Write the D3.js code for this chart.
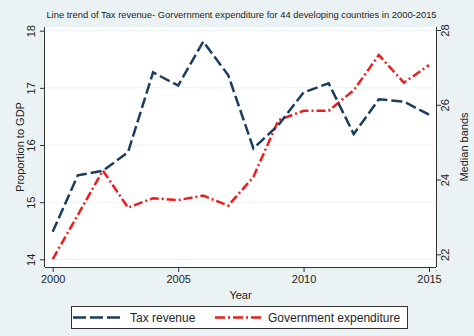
<!DOCTYPE html>
<html>
<head>
<meta charset="utf-8">
<script src="https://cdn.jsdelivr.net/npm/d3@7"></script>
<style>
  html, body { margin: 0; padding: 0; background: #eaf2f3; }
  svg { display: block; }
  text { font-family: "Liberation Sans", Arial, sans-serif; fill: #1e1e1e; }
</style>
</head>
<body>
<svg id="chart" width="474" height="336"></svg>
<script>
// Data
const years = [2000, 2001, 2002, 2003, 2004, 2005, 2006, 2007, 2008, 2009, 2010, 2011, 2012, 2013, 2014, 2015];
const taxRevenue = [14.48, 15.47, 15.55, 15.87, 17.27, 17.04, 17.81, 17.22, 15.94, 16.35, 16.92, 17.08, 16.19, 16.80, 16.76, 16.53];
const govExpenditure = [21.87, 23.05, 24.24, 23.25, 23.50, 23.45, 23.57, 23.30, 24.07, 25.59, 25.84, 25.84, 26.39, 27.33, 26.59, 27.06];
const xTicks = [2000, 2005, 2010, 2015];
const leftTicks = [14, 15, 16, 17, 18];
const rightTicks = [22, 24, 26, 28];
const titleText = "Line trend of Tax revenue- Gorvernment expenditure for 44 developing countries in 2000-2015";
const seriesNames = ["Tax revenue", "Government expenditure"];

const svg = d3.select("#chart");
const plot = { left: 45, right: 436, top: 27, bottom: 267 };

const x = d3.scaleLinear().domain([2000, 2015]).range([52.7, 429]);
const yL = d3.scaleLinear().domain([14, 18]).range([259.3, 30.7]);
const yR = d3.scaleLinear().domain([22, 28]).range([254.3, 30]);

// Plot region
svg.append("rect")
  .attr("x", plot.left).attr("y", plot.top)
  .attr("width", plot.right - plot.left).attr("height", plot.bottom - plot.top)
  .attr("fill", "#ffffff");

// Horizontal grid at left-axis ticks
svg.append("g").selectAll("line").data(leftTicks).join("line")
  .attr("x1", plot.left).attr("x2", plot.right)
  .attr("y1", d => yL(d)).attr("y2", d => yL(d))
  .attr("stroke", "#eaf2f3").attr("stroke-width", 1);

// Title
svg.append("text")
  .attr("x", 241.5).attr("y", 18)
  .attr("text-anchor", "middle")
  .attr("font-size", 9.4)
  .text(titleText);

const axisColor = "#333";
const fmt = d3.format("d");

// Bottom axis
const xAxis = d3.axisBottom(x).tickValues(xTicks).tickFormat(fmt).tickSize(5).tickPadding(3);
const gx = svg.append("g").attr("transform", `translate(0,${plot.bottom})`).call(xAxis);
gx.select(".domain").attr("d", `M${plot.left},0.5H${plot.right}`).attr("stroke", axisColor);
gx.selectAll(".tick line").attr("stroke", axisColor);
gx.selectAll(".tick text").attr("font-size", 11).attr("fill", "#1e1e1e")
  .attr("font-family", "Liberation Sans, Arial, sans-serif");

// Left axis
const yAxisL = d3.axisLeft(yL).tickValues(leftTicks).tickFormat(fmt).tickSize(5).tickPadding(0);
const gl = svg.append("g").attr("transform", `translate(${plot.left},0)`).call(yAxisL);
gl.select(".domain").attr("d", `M-0.5,${plot.top}V${plot.bottom}`).attr("stroke", axisColor);
gl.selectAll(".tick line").attr("stroke", axisColor);
gl.selectAll(".tick text")
  .attr("font-size", 11).attr("fill", "#1e1e1e")
  .attr("font-family", "Liberation Sans, Arial, sans-serif")
  .attr("text-anchor", "middle").attr("dy", null)
  .attr("x", 0).attr("y", 0)
  .attr("transform", "translate(-10,0) rotate(-90)");

// Right axis
const yAxisR = d3.axisRight(yR).tickValues(rightTicks).tickFormat(fmt).tickSize(5).tickPadding(0);
const gr = svg.append("g").attr("transform", `translate(${plot.right},0)`).call(yAxisR);
gr.select(".domain").attr("d", `M0.5,${plot.top}V${plot.bottom}`).attr("stroke", axisColor);
gr.selectAll(".tick line").attr("stroke", axisColor);
gr.selectAll(".tick text")
  .attr("font-size", 11).attr("fill", "#1e1e1e")
  .attr("font-family", "Liberation Sans, Arial, sans-serif")
  .attr("text-anchor", "middle").attr("dy", null)
  .attr("x", 0).attr("y", 0)
  .attr("transform", "translate(13,0) rotate(-90)");

// Axis titles
svg.append("text")
  .attr("transform", `translate(24,${(plot.top + plot.bottom) / 2}) rotate(-90)`)
  .attr("text-anchor", "middle").attr("font-size", 11)
  .text("Proportion to GDP");
svg.append("text")
  .attr("transform", `translate(468,${(plot.top + plot.bottom) / 2}) rotate(-90)`)
  .attr("text-anchor", "middle").attr("font-size", 11)
  .text("Median bands");
svg.append("text")
  .attr("x", (plot.left + plot.right) / 2).attr("y", 299)
  .attr("text-anchor", "middle").attr("font-size", 11)
  .text("Year");

// Lines
const taxColor = "#1a3d5f";
const govColor = "#ee1c1c";
const taxDash = "11,4";
const govDash = "9,3,2,3";

const lineL = d3.line().x((d, i) => x(years[i])).y(d => yL(d));
const lineR = d3.line().x((d, i) => x(years[i])).y(d => yR(d));

svg.append("path").datum(govExpenditure)
  .attr("d", lineR).attr("fill", "none")
  .attr("stroke", govColor).attr("stroke-width", 2.5)
  .attr("stroke-dasharray", govDash);

svg.append("path").datum(taxRevenue)
  .attr("d", lineL).attr("fill", "none")
  .attr("stroke", taxColor).attr("stroke-width", 2.5)
  .attr("stroke-dasharray", taxDash);

// Legend
const lg = svg.append("g");
lg.append("rect")
  .attr("x", 71.5).attr("y", 306.5).attr("width", 336).attr("height", 22)
  .attr("fill", "#ffffff").attr("stroke", "#333").attr("stroke-width", 1);
lg.append("line").attr("x1", 73).attr("x2", 122).attr("y1", 317.5).attr("y2", 317.5)
  .attr("stroke", taxColor).attr("stroke-width", 2.5).attr("stroke-dasharray", "13,4");
lg.append("text").attr("x", 130).attr("y", 321.8).attr("font-size", 12).text(seriesNames[0]);
lg.append("line").attr("x1", 215).attr("x2", 262).attr("y1", 317.5).attr("y2", 317.5)
  .attr("stroke", govColor).attr("stroke-width", 2.5).attr("stroke-dasharray", "10,3,2,3");
lg.append("text").attr("x", 268).attr("y", 321.8).attr("font-size", 12).text(seriesNames[1]);
</script>
</body>
</html>
